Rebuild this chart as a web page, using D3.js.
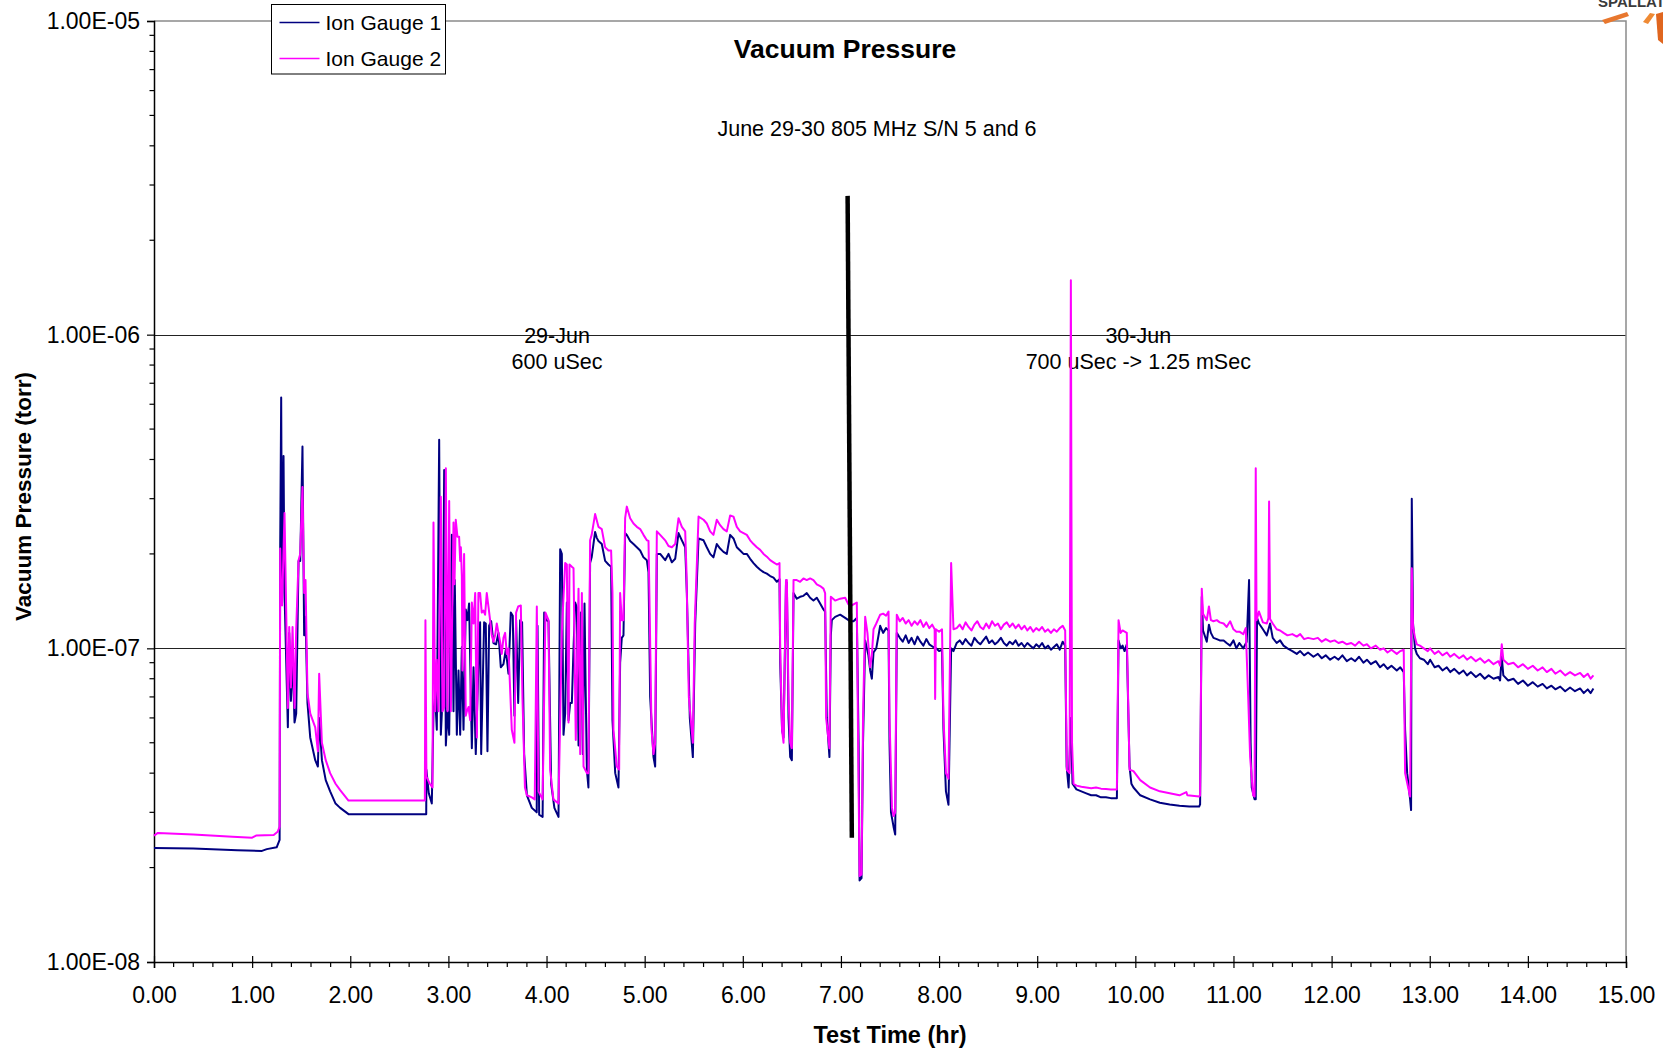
<!DOCTYPE html>
<html>
<head>
<meta charset="utf-8">
<script src="https://cdn.jsdelivr.net/npm/d3@7"></script>
<style>
  html, body { margin: 0; padding: 0; background: #fff; }
  svg { display: block; font-family: Arial, "Liberation Sans", sans-serif; }
</style>
</head>
<body>
<svg width="1663" height="1049"></svg>
<script>
// time in hours, pressure in units of 1e-7 torr
const UNIT = 1e-7;

const gauge1 = [
    [0.00, 0.231], [0.40, 0.230], [0.85, 0.227], [1.10, 0.226], [1.15, 0.229], [1.25, 0.232], [1.28, 0.245],
    [1.286, 2.1], [1.296, 6.3], [1.305, 1.4], [1.320, 4.1], [1.330, 1.5], [1.364, 0.56], [1.378, 1.12], [1.395, 0.68],
    [1.412, 0.95], [1.432, 0.58], [1.449, 0.62], [1.473, 1.9], [1.490, 1.9], [1.513, 4.4], [1.530, 1.10], [1.544, 1.26],
    [1.564, 0.67], [1.592, 0.52], [1.643, 0.44], [1.670, 0.42], [1.683, 0.60], [1.711, 0.44], [1.750, 0.38], [1.795, 0.35],
    [1.850, 0.32], [1.897, 0.31], [1.982, 0.296], [2.774, 0.296],
    [2.776, 0.41], [2.800, 0.345], [2.831, 0.32], [2.848, 0.63], [2.865, 0.70], [2.882, 0.55], [2.906, 4.62], [2.923, 0.53],
    [2.940, 0.69], [2.957, 3.7], [2.974, 0.49], [2.991, 0.63], [3.008, 0.53], [3.035, 2.3], [3.052, 0.63], [3.065, 1.65],
    [3.086, 0.53], [3.103, 0.85], [3.120, 0.53], [3.137, 1.01], [3.154, 0.55], [3.177, 1.33], [3.194, 1.23], [3.211, 1.39],
    [3.239, 0.48], [3.256, 0.87], [3.279, 0.46], [3.306, 0.89], [3.323, 1.21], [3.334, 0.46], [3.364, 1.21], [3.381, 1.2],
    [3.398, 0.47], [3.415, 1.18], [3.436, 1.22], [3.459, 1.04], [3.486, 1.03], [3.510, 1.12], [3.534, 0.87], [3.561, 0.89],
    [3.585, 0.99], [3.612, 0.83], [3.636, 1.30], [3.656, 1.27], [3.673, 0.61], [3.690, 1.23], [3.711, 0.67], [3.731, 1.23],
    [3.751, 1.21], [3.772, 0.46], [3.800, 0.34], [3.850, 0.31], [3.900, 0.30], [3.908, 1.18], [3.925, 0.295], [3.960, 0.29],
    [3.976, 1.30], [3.996, 1.23], [4.020, 1.22], [4.047, 0.37], [4.080, 0.31], [4.122, 0.29], [4.139, 2.07], [4.156, 2.0],
    [4.173, 0.53], [4.190, 0.62], [4.207, 1.40], [4.224, 0.59], [4.241, 0.67], [4.258, 0.67], [4.275, 1.0], [4.292, 1.40],
    [4.309, 1.35], [4.326, 0.49], [4.350, 1.3], [4.370, 0.46], [4.387, 1.39], [4.400, 0.70], [4.411, 0.41], [4.427, 0.36],
    [4.444, 1.87], [4.460, 1.95], [4.478, 2.15], [4.495, 2.35], [4.512, 2.25], [4.529, 2.2], [4.563, 2.15], [4.597, 1.9],
    [4.631, 1.85], [4.658, 1.82], [4.672, 0.59], [4.700, 0.40], [4.733, 0.36], [4.750, 0.9], [4.767, 1.08], [4.784, 1.1],
    [4.801, 2.33], [4.818, 2.3], [4.852, 2.2], [4.886, 2.15], [4.920, 2.1], [4.954, 2.05], [4.988, 1.95], [5.022, 1.91],
    [5.039, 1.75], [5.056, 0.7], [5.090, 0.45], [5.107, 0.42], [5.124, 2.0], [5.158, 2.0], [5.209, 1.91], [5.243, 2.0],
    [5.277, 1.88], [5.311, 1.93], [5.345, 2.33], [5.379, 2.21], [5.413, 2.1], [5.430, 1.5], [5.460, 0.6], [5.491, 0.45],
    [5.515, 1.2], [5.549, 2.24], [5.600, 2.21], [5.633, 2.1], [5.667, 2.0], [5.701, 1.95], [5.735, 2.15], [5.769, 2.08],
    [5.803, 2.03], [5.837, 2.0], [5.871, 2.3], [5.905, 2.24], [5.939, 2.1], [5.973, 2.05], [6.007, 2.0], [6.041, 2.0],
    [6.075, 1.93], [6.109, 1.87], [6.143, 1.82], [6.177, 1.78], [6.211, 1.75], [6.245, 1.73], [6.279, 1.70], [6.313, 1.68],
    [6.347, 1.63], [6.374, 1.66], [6.381, 0.9], [6.400, 0.55], [6.415, 0.52], [6.440, 1.6], [6.449, 1.62], [6.466, 0.6],
    [6.483, 0.45], [6.500, 0.44], [6.517, 1.5], [6.550, 1.44], [6.584, 1.46], [6.618, 1.47], [6.652, 1.50], [6.686, 1.45],
    [6.720, 1.42], [6.754, 1.45], [6.788, 1.39], [6.822, 1.33], [6.839, 1.31], [6.856, 0.6], [6.883, 0.45], [6.897, 1.1],
    [6.907, 1.23], [6.941, 1.26], [6.992, 1.28], [7.043, 1.25], [7.077, 1.23], [7.094, 1.22], [7.128, 1.22], [7.162, 1.25],
    [7.180, 0.5], [7.190, 0.182], [7.210, 0.185], [7.225, 0.5], [7.247, 1.06], [7.280, 0.95], [7.298, 0.85], [7.315, 0.80],
    [7.332, 0.97], [7.360, 1.0], [7.400, 1.18], [7.430, 1.12], [7.460, 1.16], [7.485, 1.14], [7.495, 0.5], [7.510, 0.30],
    [7.536, 0.27], [7.553, 0.255], [7.569, 1.12], [7.600, 1.08], [7.630, 1.05], [7.660, 1.10], [7.690, 1.04], [7.720, 1.08],
    [7.750, 1.03], [7.780, 1.09], [7.810, 1.05], [7.840, 1.02], [7.870, 1.07], [7.900, 1.03], [7.940, 1.01], [7.970, 1.0],
    [8.000, 0.98], [8.030, 0.99], [8.045, 0.55], [8.070, 0.35], [8.096, 0.317], [8.123, 1.0], [8.147, 0.98],
    [8.18, 1.04], [8.21, 1.06], [8.24, 1.03], [8.27, 1.07], [8.30, 1.04], [8.33, 1.02], [8.36, 1.08], [8.39, 1.05],
    [8.42, 1.03], [8.45, 1.06], [8.48, 1.09], [8.51, 1.04], [8.54, 1.06], [8.57, 1.03], [8.60, 1.05], [8.63, 1.08],
    [8.66, 1.04], [8.69, 1.02], [8.72, 1.05], [8.75, 1.03], [8.78, 1.06], [8.81, 1.02], [8.84, 1.04], [8.87, 1.01],
    [8.90, 1.04], [8.93, 1.02], [8.96, 1.0], [8.99, 1.03], [9.02, 1.01], [9.05, 1.04], [9.08, 1.0], [9.11, 1.02],
    [9.14, 0.99], [9.17, 1.01], [9.20, 1.03], [9.23, 0.99], [9.26, 1.05], [9.285, 1.02], [9.300, 0.42], [9.320, 0.36],
    [9.343, 0.6], [9.360, 0.37], [9.40, 0.355], [9.45, 0.35], [9.50, 0.345], [9.55, 0.34], [9.60, 0.34], [9.65, 0.335],
    [9.70, 0.335], [9.75, 0.333], [9.812, 0.333], [9.829, 1.06], [9.85, 1.0], [9.87, 1.02], [9.89, 0.98], [9.913, 1.03],
    [9.941, 0.42], [9.960, 0.37], [9.981, 0.36], [10.05, 0.34], [10.15, 0.33], [10.25, 0.322], [10.35, 0.318],
    [10.45, 0.315], [10.55, 0.313], [10.65, 0.313], [10.66, 0.318], [10.677, 1.46], [10.69, 1.14], [10.728, 1.05],
    [10.75, 1.19], [10.77, 1.12], [10.796, 1.08], [10.83, 1.07], [10.86, 1.06], [10.90, 1.06], [10.93, 1.04], [10.966, 1.02],
    [11.00, 1.06], [11.03, 1.0], [11.06, 1.04], [11.10, 1.0], [11.135, 1.05], [11.159, 1.65], [11.175, 0.5], [11.186, 0.36],
    [11.215, 0.33], [11.227, 0.33], [11.24, 1.25], [11.26, 1.2], [11.30, 1.15], [11.34, 1.10], [11.373, 1.2], [11.40, 1.08],
    [11.44, 1.04], [11.475, 1.06], [11.51, 1.02], [11.55, 1.0], [11.60, 0.98], [11.645, 0.96], [11.68, 0.98], [11.72, 0.95],
    [11.76, 0.97], [11.815, 0.94], [11.86, 0.96], [11.90, 0.93], [11.94, 0.95], [11.985, 0.92], [12.03, 0.94], [12.07, 0.92],
    [12.11, 0.95], [12.155, 0.91], [12.20, 0.93], [12.24, 0.91], [12.28, 0.94], [12.324, 0.90], [12.36, 0.92], [12.40, 0.89],
    [12.45, 0.91], [12.494, 0.87], [12.53, 0.89], [12.57, 0.86], [12.61, 0.88], [12.664, 0.85], [12.70, 0.87], [12.735, 0.84],
    [12.749, 0.55], [12.77, 0.40], [12.80, 0.33], [12.81, 0.305], [12.817, 3.0], [12.83, 1.2], [12.85, 1.0], [12.868, 0.96],
    [12.90, 0.93], [12.94, 0.92], [12.98, 0.89], [13.004, 0.92], [13.05, 0.87], [13.09, 0.88], [13.13, 0.85], [13.174, 0.87],
    [13.21, 0.84], [13.25, 0.86], [13.30, 0.83], [13.343, 0.85], [13.38, 0.82], [13.42, 0.84], [13.47, 0.81], [13.513, 0.83],
    [13.56, 0.80], [13.60, 0.82], [13.65, 0.80], [13.70, 0.81], [13.717, 0.79], [13.734, 0.94], [13.75, 0.82], [13.80, 0.79],
    [13.853, 0.80], [13.90, 0.77], [13.95, 0.79], [14.00, 0.76], [14.05, 0.78], [14.10, 0.755], [14.15, 0.77], [14.193, 0.745],
    [14.24, 0.76], [14.28, 0.74], [14.33, 0.755], [14.38, 0.73], [14.43, 0.75], [14.48, 0.73], [14.532, 0.745], [14.57, 0.72],
    [14.61, 0.74], [14.64, 0.72], [14.668, 0.745],
];

const gauge2 = [
    [0.00, 0.253], [0.04, 0.258], [0.40, 0.255], [0.80, 0.251], [1.00, 0.249], [1.04, 0.253], [1.22, 0.254], [1.26, 0.26],
    [1.28, 0.27], [1.286, 2.08], [1.296, 1.4], [1.305, 1.37], [1.330, 2.7], [1.364, 0.645], [1.378, 1.17], [1.395, 0.75],
    [1.412, 1.17], [1.432, 0.645], [1.449, 1.15], [1.473, 1.91], [1.490, 2.0], [1.513, 3.27], [1.530, 1.5], [1.544, 1.65],
    [1.564, 0.72], [1.592, 0.62], [1.643, 0.56], [1.670, 0.47], [1.683, 0.83], [1.711, 0.50], [1.750, 0.44], [1.795, 0.40],
    [1.850, 0.37], [1.897, 0.353], [1.982, 0.327], [2.760, 0.327],
    [2.766, 1.23], [2.776, 0.39], [2.810, 0.37], [2.838, 0.36], [2.848, 2.52], [2.865, 0.63], [2.882, 0.92], [2.899, 0.63],
    [2.923, 3.04], [2.940, 0.63], [2.957, 0.65], [2.974, 3.75], [2.991, 0.63], [3.008, 2.95], [3.025, 0.63], [3.052, 2.52],
    [3.062, 1.6], [3.075, 2.57], [3.092, 2.27], [3.109, 2.27], [3.120, 1.9], [3.127, 2.1], [3.137, 1.7], [3.143, 0.85],
    [3.160, 2.0], [3.177, 0.61], [3.188, 0.63], [3.205, 0.65], [3.222, 0.59], [3.239, 1.4], [3.256, 1.2], [3.273, 1.5],
    [3.290, 0.52], [3.306, 1.5], [3.323, 1.5], [3.340, 1.3], [3.357, 1.32], [3.374, 1.28], [3.391, 1.5], [3.408, 1.36],
    [3.425, 1.23], [3.442, 1.1], [3.459, 1.05], [3.476, 1.1], [3.493, 1.2], [3.510, 1.12], [3.527, 1.05], [3.544, 0.96],
    [3.561, 1.08], [3.578, 1.12], [3.595, 0.96], [3.612, 1.0], [3.646, 0.55], [3.673, 0.50], [3.690, 1.30], [3.711, 1.36],
    [3.738, 1.37], [3.755, 0.69], [3.780, 0.36], [3.800, 0.34], [3.850, 0.335], [3.880, 0.33], [3.901, 1.36], [3.918, 0.35],
    [3.960, 0.33], [3.989, 1.30], [4.020, 1.23], [4.037, 0.41], [4.070, 0.33], [4.122, 0.32], [4.156, 1.13], [4.190, 1.87],
    [4.207, 1.85], [4.224, 0.58], [4.234, 1.85], [4.258, 1.82], [4.275, 1.80], [4.298, 0.51], [4.326, 1.55], [4.343, 0.46],
    [4.360, 1.50], [4.377, 0.42], [4.411, 0.40], [4.427, 0.40], [4.444, 2.21], [4.460, 2.3], [4.495, 2.68], [4.529, 2.44],
    [4.563, 2.4], [4.597, 2.1], [4.631, 2.05], [4.658, 2.05], [4.672, 1.5], [4.682, 0.55], [4.716, 0.42], [4.740, 0.41],
    [4.750, 1.5], [4.767, 1.23], [4.784, 1.23], [4.801, 2.6], [4.818, 2.83], [4.852, 2.6], [4.886, 2.5], [4.920, 2.44],
    [4.954, 2.4], [4.988, 2.3], [5.022, 2.21], [5.039, 2.2], [5.048, 1.5], [5.070, 0.55], [5.090, 0.46], [5.107, 0.5],
    [5.124, 2.36], [5.158, 2.3], [5.209, 2.21], [5.243, 2.12], [5.277, 2.1], [5.311, 2.15], [5.345, 2.6], [5.379, 2.44],
    [5.413, 2.36], [5.425, 1.8], [5.450, 0.7], [5.491, 0.50], [5.510, 1.2], [5.549, 2.63], [5.600, 2.57], [5.633, 2.5],
    [5.667, 2.36], [5.701, 2.3], [5.735, 2.57], [5.769, 2.47], [5.803, 2.4], [5.837, 2.36], [5.871, 2.65], [5.905, 2.63],
    [5.939, 2.44], [5.973, 2.36], [6.007, 2.33], [6.041, 2.3], [6.075, 2.21], [6.109, 2.15], [6.143, 2.1], [6.177, 2.06],
    [6.211, 2.0], [6.245, 1.96], [6.279, 1.91], [6.313, 1.88], [6.347, 1.85], [6.374, 1.87], [6.381, 1.0], [6.400, 0.55],
    [6.415, 0.50], [6.440, 1.65], [6.449, 1.65], [6.466, 0.7], [6.483, 0.5], [6.500, 0.48], [6.517, 1.65], [6.550, 1.65],
    [6.584, 1.63], [6.618, 1.67], [6.652, 1.65], [6.686, 1.67], [6.720, 1.65], [6.754, 1.6], [6.788, 1.58], [6.822, 1.55],
    [6.839, 1.5], [6.849, 0.6], [6.883, 0.48], [6.897, 1.46], [6.941, 1.42], [6.992, 1.44], [7.043, 1.45], [7.077, 1.38],
    [7.094, 1.36], [7.128, 1.38], [7.162, 1.40], [7.175, 0.5], [7.190, 0.188], [7.210, 0.19], [7.225, 0.6], [7.247, 1.26],
    [7.270, 1.12], [7.298, 0.87], [7.315, 0.95], [7.332, 1.15], [7.360, 1.2], [7.400, 1.28], [7.430, 1.29], [7.460, 1.27],
    [7.485, 1.31], [7.495, 0.6], [7.520, 0.31], [7.536, 0.292], [7.553, 0.30], [7.569, 1.28], [7.600, 1.22], [7.630, 1.25],
    [7.660, 1.20], [7.690, 1.23], [7.720, 1.18], [7.750, 1.22], [7.780, 1.19], [7.810, 1.23], [7.840, 1.17], [7.870, 1.21],
    [7.900, 1.16], [7.930, 1.19], [7.955, 1.15], [7.960, 0.69], [7.967, 1.15], [8.000, 1.13], [8.030, 1.15], [8.045, 0.6],
    [8.070, 0.40], [8.096, 0.384], [8.123, 1.87], [8.147, 1.15],
    [8.18, 1.16], [8.21, 1.19], [8.24, 1.15], [8.27, 1.21], [8.30, 1.17], [8.33, 1.14], [8.36, 1.19], [8.39, 1.22],
    [8.42, 1.17], [8.45, 1.15], [8.48, 1.2], [8.51, 1.16], [8.54, 1.22], [8.57, 1.18], [8.60, 1.2], [8.63, 1.15],
    [8.66, 1.19], [8.69, 1.21], [8.72, 1.17], [8.75, 1.2], [8.78, 1.16], [8.81, 1.19], [8.84, 1.15], [8.87, 1.18],
    [8.90, 1.14], [8.93, 1.17], [8.96, 1.13], [8.99, 1.16], [9.02, 1.14], [9.05, 1.17], [9.08, 1.13], [9.11, 1.15],
    [9.14, 1.12], [9.17, 1.15], [9.20, 1.13], [9.23, 1.16], [9.26, 1.18], [9.285, 1.14], [9.302, 0.41], [9.330, 0.40],
    [9.343, 14.9], [9.355, 0.5], [9.370, 0.37], [9.40, 0.365], [9.45, 0.362], [9.50, 0.36], [9.55, 0.358], [9.60, 0.36],
    [9.65, 0.357], [9.70, 0.356], [9.75, 0.355], [9.812, 0.355], [9.829, 1.23], [9.85, 1.12], [9.87, 1.14], [9.913, 1.12],
    [9.941, 0.41], [9.981, 0.406], [10.05, 0.38], [10.15, 0.36], [10.25, 0.35], [10.35, 0.345], [10.45, 0.34],
    [10.52, 0.348], [10.53, 0.34], [10.65, 0.337], [10.66, 0.34], [10.677, 1.55], [10.69, 1.29], [10.728, 1.23],
    [10.75, 1.36], [10.77, 1.23], [10.796, 1.22], [10.83, 1.23], [10.86, 1.21], [10.90, 1.2], [10.93, 1.17], [10.966, 1.22],
    [11.00, 1.15], [11.03, 1.13], [11.06, 1.13], [11.10, 1.11], [11.125, 1.16], [11.15, 0.7], [11.17, 0.45], [11.20, 0.34],
    [11.215, 0.337], [11.227, 3.75], [11.235, 1.23], [11.26, 1.31], [11.30, 1.21], [11.34, 1.20], [11.356, 1.25],
    [11.363, 2.94], [11.373, 1.24], [11.40, 1.2], [11.44, 1.15], [11.475, 1.14], [11.51, 1.12], [11.55, 1.10], [11.60, 1.11],
    [11.645, 1.09], [11.68, 1.11], [11.72, 1.07], [11.76, 1.08], [11.815, 1.07], [11.86, 1.08], [11.90, 1.05], [11.94, 1.07],
    [11.985, 1.05], [12.03, 1.06], [12.07, 1.04], [12.11, 1.05], [12.155, 1.03], [12.20, 1.04], [12.24, 1.02], [12.28, 1.05],
    [12.324, 1.02], [12.36, 1.03], [12.40, 1.0], [12.45, 1.02], [12.494, 0.99], [12.53, 1.0], [12.57, 0.97], [12.61, 0.99],
    [12.664, 0.96], [12.70, 0.98], [12.735, 0.99], [12.749, 0.40], [12.78, 0.36], [12.80, 0.337], [12.817, 1.8],
    [12.83, 1.17], [12.85, 1.08], [12.868, 1.03], [12.90, 1.02], [12.94, 1.0], [12.98, 0.98], [13.004, 1.0], [13.05, 0.96],
    [13.09, 0.98], [13.13, 0.95], [13.174, 0.97], [13.21, 0.94], [13.25, 0.96], [13.30, 0.93], [13.343, 0.95], [13.38, 0.92],
    [13.42, 0.94], [13.47, 0.91], [13.513, 0.93], [13.56, 0.90], [13.60, 0.92], [13.65, 0.89], [13.70, 0.91], [13.717, 0.88],
    [13.734, 1.03], [13.75, 0.92], [13.80, 0.89], [13.853, 0.90], [13.90, 0.87], [13.95, 0.89], [14.00, 0.86], [14.05, 0.88],
    [14.10, 0.85], [14.15, 0.87], [14.193, 0.84], [14.24, 0.86], [14.28, 0.83], [14.33, 0.85], [14.38, 0.82], [14.43, 0.84],
    [14.48, 0.82], [14.532, 0.835], [14.57, 0.81], [14.61, 0.83], [14.64, 0.80], [14.668, 0.82],
];

// the thick black line marking the change of day
const divider = [[7.068, 27.7], [7.111, 0.249]];

const seriesNames = ['Ion Gauge 1', 'Ion Gauge 2'];
const seriesColors = ['#000080', '#ff00ff'];

const xTickValues = d3.range(0, 16);
const yTickValues = [1e-8, 1e-7, 1e-6, 1e-5];
const yTickLabels = ['1.00E-08', '1.00E-07', '1.00E-06', '1.00E-05'];

const notes = [
    { hour: 4.107, lines: ['29-Jun', '600 uSec'] },
    { hour: 10.03, lines: ['30-Jun', '700 uSec -> 1.25 mSec'] },
];

const svg = d3.select('svg'),
    margin = { top: 21, right: 37, bottom: 87, left: 154 },
    width = +svg.attr('width') - margin.left - margin.right,
    height = +svg.attr('height') - margin.top - margin.bottom;

const x = d3.scaleLinear().domain([0, 15]).range([0, width]);
const y = d3.scaleLog().domain([1e-8, 1e-5]).range([height, 0]);

const g = svg.append('g')
    .attr('transform', 'translate(' + margin.left + ',' + margin.top + ')');

// gridlines
g.selectAll('.grid')
    .data([1e-7, 1e-6])
    .enter()
    .append('line')
    .attr('x1', 0)
    .attr('x2', width)
    .attr('y1', d => Math.round(y(d)) + 0.5)
    .attr('y2', d => Math.round(y(d)) + 0.5)
    .attr('stroke', '#222')
    .attr('stroke-width', 1);

// grey frame top and right
g.append('path')
    .attr('d', `M0,${y(1e-5)}H${width}V${height}`)
    .attr('fill', 'none')
    .attr('stroke', '#8a8a8a')
    .attr('stroke-width', 1.5);

// notes under the series
notes.forEach(n => {
    const t = g.append('text')
        .attr('x', x(n.hour))
        .attr('y', y(1e-6) + 8)
        .attr('text-anchor', 'middle')
        .attr('font-size', 21.5)
        .attr('fill', '#000');
    t.append('tspan').attr('x', x(n.hour)).text(n.lines[0]);
    t.append('tspan').attr('x', x(n.hour)).attr('dy', 26).text(n.lines[1]);
});

// y axis
const yAxis = g.append('g')
    .call(d3.axisLeft(y)
        .tickValues(yTickValues)
        .tickFormat((d, i) => yTickLabels[i])
        .tickSize(7)
        .tickPadding(7));
yAxis.attr('font-size', 23).attr('font-family', null);
yAxis.select('.domain').attr('stroke', '#000').attr('stroke-width', 1.5);
yAxis.selectAll('.tick line').attr('stroke', '#000').attr('stroke-width', 1.2);
yAxis.selectAll('text').attr('fill', '#000');

g.append('g')
    .selectAll('line')
    .data(y.ticks().filter(d => !yTickValues.some(v => Math.abs(v - d) / v < 1e-6)))
    .enter()
    .append('line')
    .attr('x1', -4.5)
    .attr('x2', 0)
    .attr('y1', d => y(d))
    .attr('y2', d => y(d))
    .attr('stroke', '#000')
    .attr('stroke-width', 1.2);

// x axis
const xAxis = g.append('g')
    .attr('transform', 'translate(0,' + height + ')')
    .call(d3.axisBottom(x)
        .tickValues(xTickValues)
        .tickFormat(d3.format('.2f'))
        .tickSize(6)
        .tickPadding(19));
xAxis.attr('font-size', 23).attr('font-family', null);
xAxis.select('.domain').attr('stroke', '#000').attr('stroke-width', 1.5);
xAxis.selectAll('.tick line').attr('y1', -6).attr('stroke', '#000').attr('stroke-width', 1.2);
xAxis.selectAll('text').attr('fill', '#000');

xAxis.append('g')
    .selectAll('line')
    .data(d3.range(1, 75).filter(i => i % 5 !== 0).map(i => i / 5))
    .enter()
    .append('line')
    .attr('x1', d => x(d))
    .attr('x2', d => x(d))
    .attr('y1', 0)
    .attr('y2', 5)
    .attr('stroke', '#000')
    .attr('stroke-width', 1.2);

// series
const line = d3.line()
    .x(d => x(d[0]))
    .y(d => y(d[1] * UNIT));

[gauge1, gauge2].forEach((s, i) => {
    g.append('path')
        .datum(s)
        .attr('d', line)
        .attr('fill', 'none')
        .attr('stroke', seriesColors[i])
        .attr('stroke-width', 2)
        .attr('stroke-linejoin', 'round');
});

g.append('path')
    .datum(divider)
    .attr('d', line)
    .attr('stroke', '#000')
    .attr('stroke-width', 4.5);

// titles
svg.append('text')
    .attr('x', 845)
    .attr('y', 58)
    .attr('text-anchor', 'middle')
    .attr('font-size', 26.5)
    .attr('font-weight', 'bold')
    .text('Vacuum Pressure');

svg.append('text')
    .attr('x', 877)
    .attr('y', 136)
    .attr('text-anchor', 'middle')
    .attr('font-size', 21.5)
    .text('June 29-30 805 MHz S/N 5 and 6');

g.append('text')
    .attr('x', width / 2)
    .attr('y', height + 81)
    .attr('text-anchor', 'middle')
    .attr('font-size', 23.5)
    .attr('font-weight', 'bold')
    .text('Test Time (hr)');

svg.append('text')
    .attr('transform', 'translate(31,' + (margin.top + y(Math.sqrt(1e-7 * 1e-6)) + 5) + ') rotate(-90)')
    .attr('text-anchor', 'middle')
    .attr('font-size', 22.5)
    .attr('font-weight', 'bold')
    .text('Vacuum Pressure (torr)');

// legend
const legend = svg.append('g').attr('transform', 'translate(271.5,4.5)');
legend.append('rect')
    .attr('width', 174)
    .attr('height', 69.5)
    .attr('fill', '#fff')
    .attr('stroke', '#000')
    .attr('stroke-width', 1);
seriesNames.forEach((name, i) => {
    const row = legend.append('g').attr('transform', 'translate(0,' + (18 + i * 36) + ')');
    row.append('line')
        .attr('x1', 8)
        .attr('x2', 48)
        .attr('stroke', seriesColors[i])
        .attr('stroke-width', 1.5);
    row.append('text')
        .attr('x', 54)
        .attr('y', 7.5)
        .attr('font-size', 21)
        .text(name);
});

// corner logo fragment
const logo = svg.append('g');
logo.append('text')
    .attr('x', 1598)
    .attr('y', 7)
    .attr('font-size', 15)
    .attr('font-weight', 'bold')
    .attr('fill', '#3a3a3a')
    .text('SPALLATI');
logo.append('polygon').attr('points', '1602,20 1627,12 1629,16 1605,24').attr('fill', '#e8772e');
logo.append('polygon').attr('points', '1643,22 1650,13 1655,14 1648,24').attr('fill', '#ef8a34');
logo.append('polygon').attr('points', '1656,14 1663,12 1663,44 1658,40').attr('fill', '#e0661f');
</script>
</body>
</html>
